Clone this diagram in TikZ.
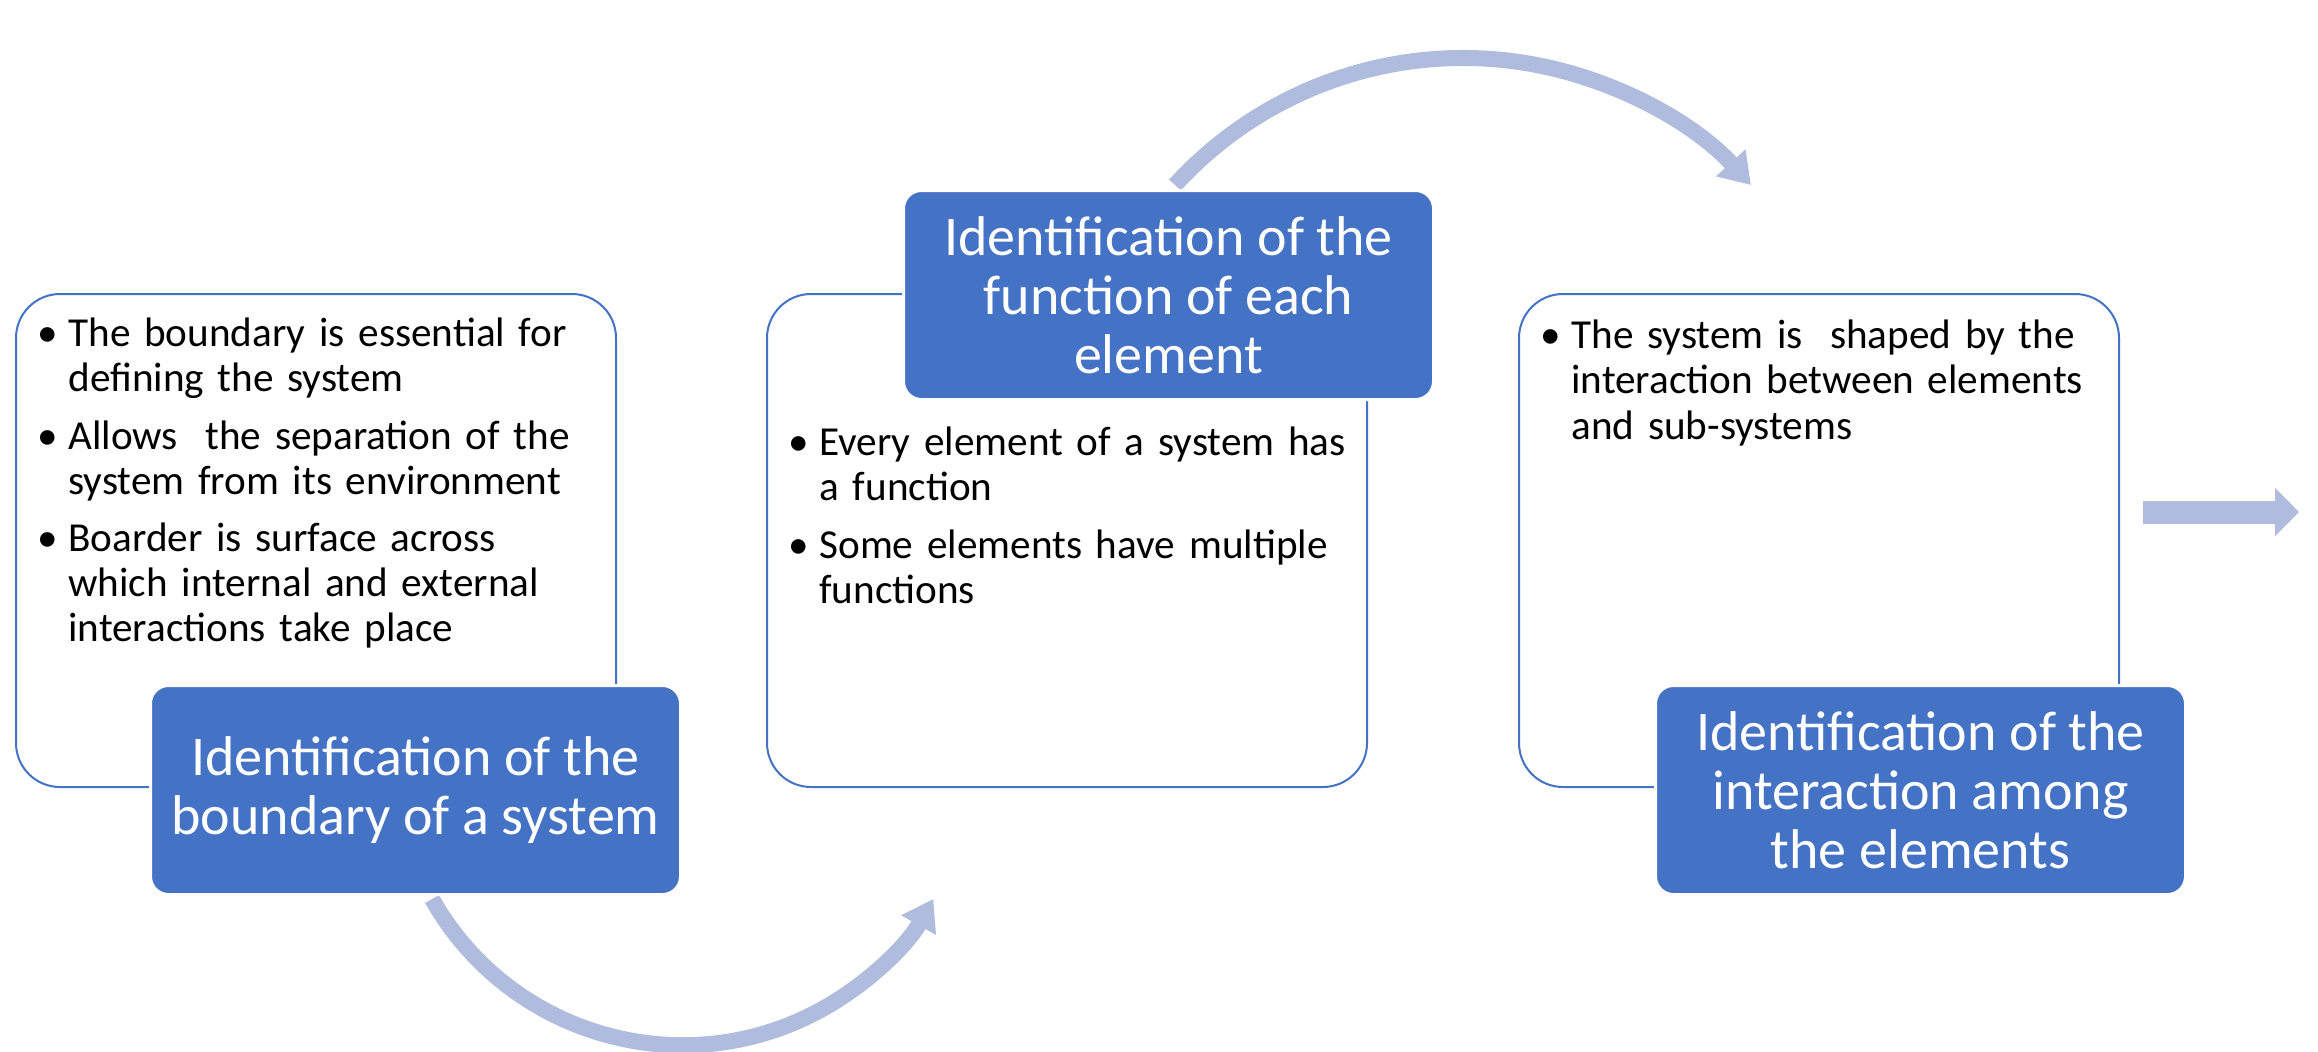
\documentclass[tikz,border=0pt]{standalone}
\usepackage{fontspec}
\setmainfont{Carlito}
\usepackage{enumitem}
\usepackage{xcolor}
\usepackage{tikz}
\usetikzlibrary{positioning,arrows.meta}

\definecolor{accent}{HTML}{4472C4}
\definecolor{arrowblue}{RGB}{176,188,222}
\setlist[itemize]{label=\textbullet, leftmargin=18.5pt, labelsep=5pt, itemsep=6pt, parsep=0pt, topsep=0pt, partopsep=0pt}

\begin{document}
\begin{tikzpicture}[x=0.5pt, y=-0.5pt,
    panel/.style={draw=accent, line width=1pt, fill=white, rounded corners=22pt,
        minimum width=300pt, minimum height=246.5pt, inner sep=0pt, anchor=north west},
    title/.style={draw=white, line width=1.5pt, fill=accent, rounded corners=9pt,
        minimum width=265pt, minimum height=104.5pt, inner sep=0pt, anchor=north west,
        text=white, align=center, font=\fontsize{28}{29.5}\selectfont},
    bullets/.style={text width=290pt, inner sep=0pt, align=left,
        font=\fontsize{20.6}{22.6}\selectfont},
    flow/.style={line width=8pt, arrowblue, -{Triangle[length=15pt, width=19pt]}},
    push/.style={line width=11.5pt, arrowblue, -{Triangle[length=12pt, width=23.5pt]}}]
    \useasboundingbox (0,0) rectangle (2318,1051);

    % curved arrows between the steps
    \coordinate (s1) at (432,899);
    \coordinate (s2) at (1175,185);
    \draw[flow] (s1) arc[start angle=209.5, end angle=330.5, radius=144pt];
    \draw[flow] (s2) arc[start angle=137.6, end angle=42.4, radius=195pt];

    % outlined panels
    \foreach \n/\x in {1/15, 2/766, 3/1518}
        \node[panel] (p\n) at (\x,293) {};

    % bullet texts
    \node[bullets, below right=4pt and 8pt of p1.north west] (b1) {%
        \begin{itemize}
            \item The boundary is essential for\\ defining the system
            \item Allows~ the separation of the\\ system from its environment
            \item Boarder is surface across\\ which internal and external\\ interactions take place
        \end{itemize}};
    \node[bullets, below right=58.5pt and 8pt of p2.north west] (b2) {%
        \begin{itemize}
            \item Every element of a system has\\ a function
            \item Some elements have multiple\\ functions
        \end{itemize}};
    \node[bullets, below right=5pt and 8pt of p3.north west] (b3) {%
        \begin{itemize}
            \item The system is~ shaped by the\\ interaction between elements\\ and sub-systems
        \end{itemize}};

    % step titles
    \node[title] (t1) at (149,684) {Identification of the\\ boundary of a system};
    \node[title] (t2) at (902,189) {Identification of the\\ function of each\\ element};
    \node[title] (t3) at (1654,684) {Identification of the\\ interaction among\\ the elements};

    % arrow to the next stage
    \coordinate (r1) at (2143,512);
    \coordinate (r2) at (2299,512);
    \draw[push] (r1) -- (r2);
\end{tikzpicture}
\end{document}
